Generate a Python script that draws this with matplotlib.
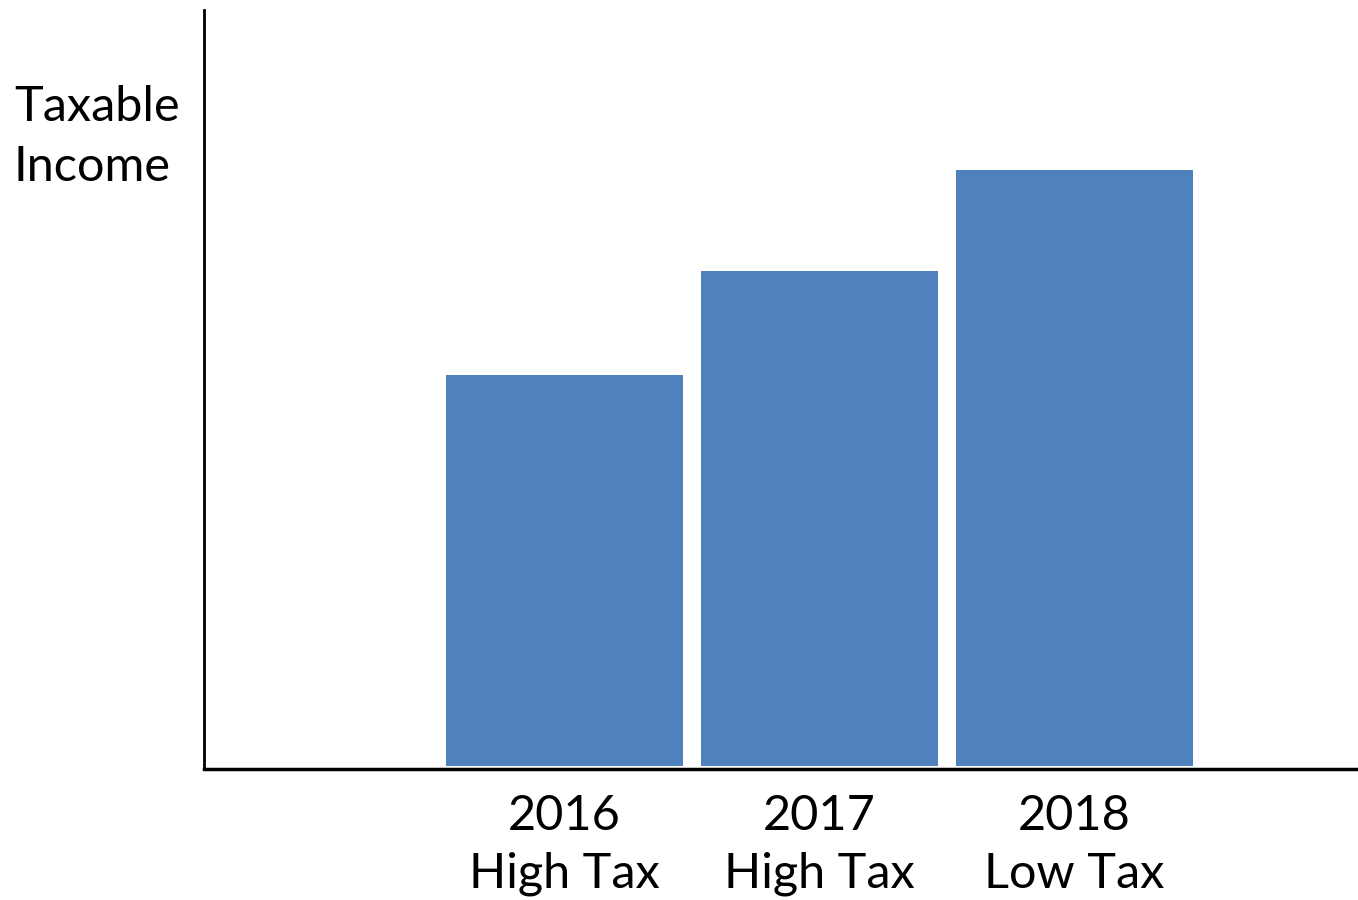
import matplotlib
matplotlib.use("Agg")
import matplotlib.pyplot as plt

categories = ["2016\nHigh Tax", "2017\nHigh Tax", "2018\nLow Tax"]
values = [3.91, 4.95, 5.96]
ylabel = "Taxable\nIncome"

plt.rcParams['font.family'] = ['Lato', 'DejaVu Sans']

W, H = 1358, 900
fig = plt.figure(figsize=(W/100, H/100), dpi=100)
ax = fig.add_axes([204/W, 1-769/H, (W-204)/W, (769-10)/H])

pos = list(range(len(categories)))
ax.bar(pos, values, width=0.93, color="#4F81BD", bottom=0)
ax.set_xlim(-1.414, 3.112)
ax.set_ylim(-0.03, 7.56)

for s in ["top", "right"]:
    ax.spines[s].set_visible(False)
ax.spines["left"].set_linewidth(2)
ax.spines["bottom"].set_linewidth(2.5)
ax.set_yticks([])
ax.set_xticks(pos)
ax.set_xticklabels(categories, fontsize=35, linespacing=1.38)
ax.tick_params(axis="x", length=0, pad=18)

fig.text(14/W, 1-137/H, ylabel, fontsize=35, ha="left", va="center", linespacing=1.42)

fig.savefig("out.png", dpi=100)
